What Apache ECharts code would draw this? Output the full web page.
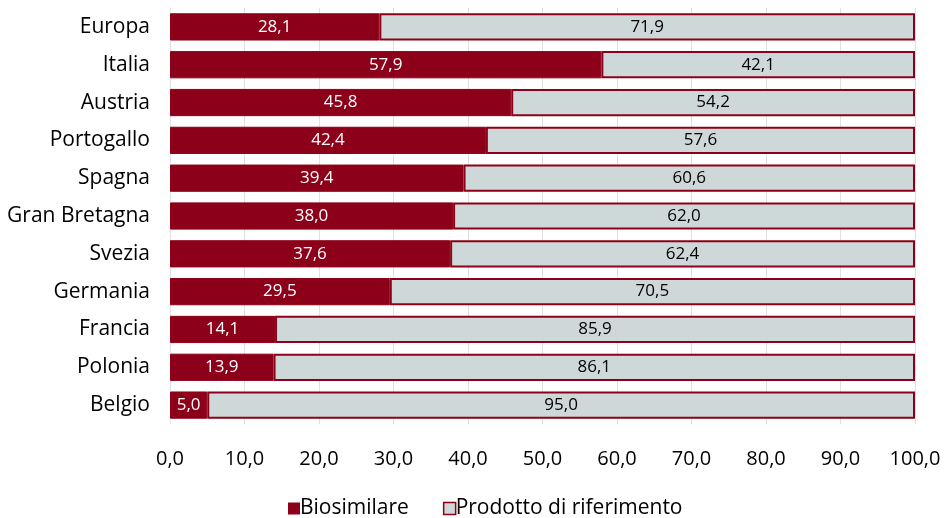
<!DOCTYPE html>
<html><head><meta charset="utf-8">
<script src="https://cdn.jsdelivr.net/npm/echarts@6/dist/echarts.min.js"></script>
<style>html,body{margin:0;padding:0;background:#fff}#c{width:945px;height:518px}</style>
</head><body><div id="c"></div>
<script>
const categories = ["Europa","Italia","Austria","Portogallo","Spagna","Gran Bretagna","Svezia","Germania","Francia","Polonia","Belgio"];
const biosimilare = [28.1,57.9,45.8,42.4,39.4,38.0,37.6,29.5,14.1,13.9,5.0];
const riferimento = [71.9,42.1,54.2,57.6,60.6,62.0,62.4,70.5,85.9,86.1,95.0];
const xTicks = [0,10,20,30,40,50,60,70,80,90,100];

const font = "'Open Sans', 'Noto Sans', sans-serif";
const fmt = v => v.toFixed(1).replace('.', ',');
const chart = echarts.init(document.getElementById('c'));
chart.setOption({
  animation: false,
  textStyle: {fontFamily: font},
  grid: {left: 170, right: 30, top: 8, bottom: 94, containLabel: false},
  legend: {
    bottom: -6, left: 283, itemWidth: 12, itemHeight: 12, itemGap: 34,
    textStyle: {fontSize: 21, color: '#000', fontFamily: font, padding: [0,0,0,-5]},
    data: [
      {name: 'Biosimilare', icon: 'rect', itemStyle: {color: '#8c0019', borderWidth: 0}},
      {name: 'Prodotto di riferimento', icon: 'rect', itemStyle: {color: '#cfd8d8', borderColor: '#8c0019', borderWidth: 1.5}}
    ]
  },
  xAxis: {
    type: 'value', min: xTicks[0], max: xTicks[xTicks.length - 1], interval: 10,
    axisLine: {show: false}, axisTick: {show: false},
    splitLine: {show: true, lineStyle: {color: '#e0e0e0', width: 1}},
    axisLabel: {fontSize: 20, color: '#000', margin: 25, formatter: v => fmt(v)}
  },
  yAxis: {
    type: 'category', data: categories, inverse: true,
    axisLine: {show: true, lineStyle: {color: '#e0e0e0'}}, axisTick: {show: false},
    axisLabel: {fontSize: 21, color: '#000', margin: 20}
  },
  series: [
    {name: 'Biosimilare', type: 'bar', stack: 't', data: biosimilare, barWidth: '72%',
     itemStyle: {color: '#8c0019', borderColor: '#8c0019', borderWidth: 1},
     label: {show: true, position: 'inside', color: '#fff', fontSize: 17, fontFamily: font, formatter: p => fmt(p.value)}},
    {name: 'Prodotto di riferimento', type: 'bar', stack: 't', data: riferimento, barWidth: '72%',
     itemStyle: {color: '#cfd8d8', borderColor: '#8c0019', borderWidth: 2},
     label: {show: true, position: 'inside', color: '#000', fontSize: 17, fontFamily: font, formatter: p => fmt(p.value)}}
  ]
});
</script></body></html>
